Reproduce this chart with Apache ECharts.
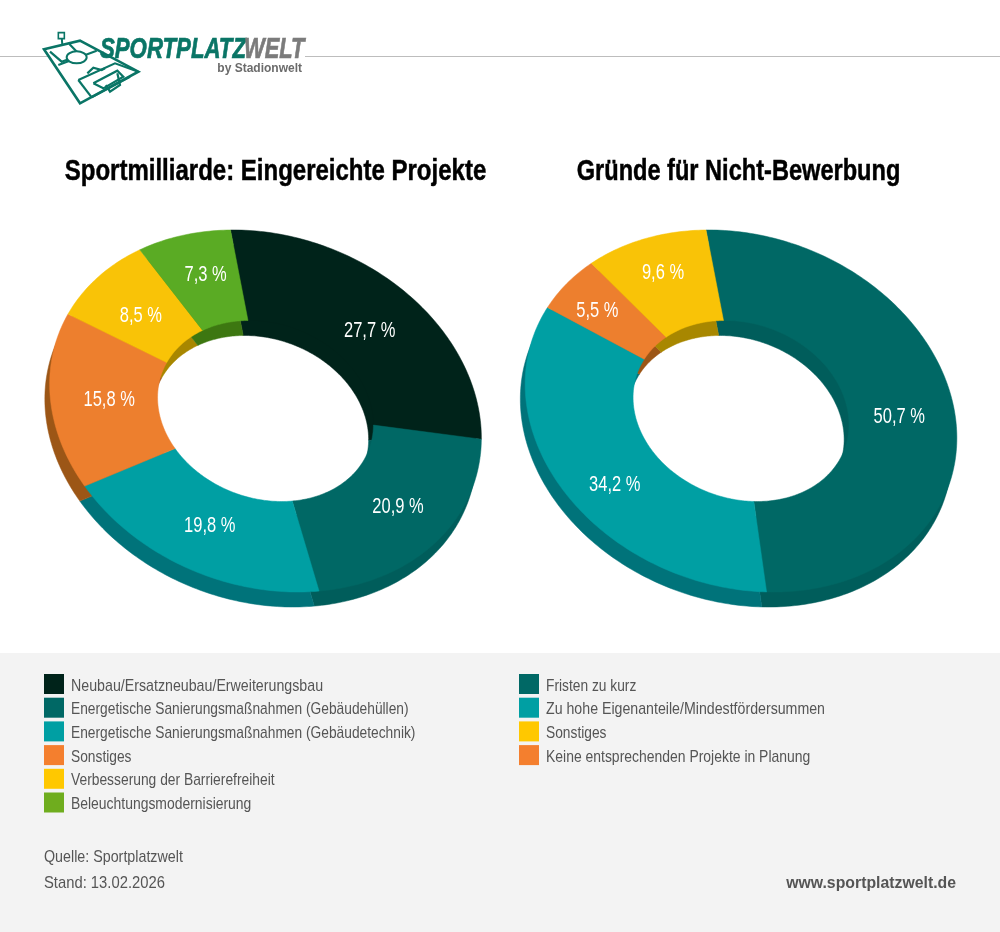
<!DOCTYPE html>
<html><head><meta charset="utf-8">
<style>html,body{margin:0;padding:0;background:#fff}#c{width:1000px;height:932px}</style>
<script src="https://cdn.jsdelivr.net/npm/echarts@6/dist/echarts.min.js"></script>
</head><body><div id="c"></div>
<script>
const projectCategories = ['Neubau/Ersatzneubau/Erweiterungsbau','Energetische Sanierungsmaßnahmen (Gebäudehüllen)','Energetische Sanierungsmaßnahmen (Gebäudetechnik)','Sonstiges','Verbesserung der Barrierefreiheit','Beleuchtungsmodernisierung'];
const projectShares = [27.7,20.9,19.8,15.8,8.5,7.3];
const reasonCategories = ['Fristen zu kurz','Zu hohe Eigenanteile/Mindestfördersummen','Sonstiges','Keine entsprechenden Projekte in Planung'];
const reasonShares = [50.7,34.2,9.6,5.5];
const reasonSliceOrder = [0,1,3,2];
const titles = ['Sportmilliarde: Eingereichte Projekte','Gründe für Nicht-Bewerbung'];

const SANS = '"Liberation Sans",sans-serif';
const C = {ink:'#00231a',deep:'#006865',teal:'#009fa3',orange:'#ed7f2e',yellow:'#f9c307',green:'#5aab24'};
const D = {ink:'#00231a',deep:'#005d5b',teal:'#00737a',orange:'#9c5616',yellow:'#a88700',green:'#3d7711'};
const L = {ink:'#00231a',deep:'#006865',teal:'#009fa3',orange:'#f47f2e',yellow:'#ffc800',green:'#6fad1e'};
const keysA=['ink','deep','teal','orange','yellow','green'], keysB=['deep','teal','yellow','orange'];

// tilted-disc projection
const U=[-35,-181], V=[213,-2.4], DEPTH=[-4.8,15], HOLE=0.5;
const pt=(cx,cy,pct,r,off)=>{const t=pct*3.6*Math.PI/180,c=Math.cos(t),s=Math.sin(t);
  return [cx+r*(U[0]*c+V[0]*s)+(off?DEPTH[0]:0), cy+r*(U[1]*c+V[1]*s)+(off?DEPTH[1]:0)];};
const ring=(api,cx,cy,a,b,off)=>{const n=Math.max(2,Math.ceil((b-a)*3.6)),o=[],i=[];
  for(let k=0;k<=n;k++){const p=a+(b-a)*k/n;o.push(api.coord(pt(cx,cy,p,1,off)));i.unshift(api.coord(pt(cx,cy,p,HOLE,off)));}
  return o.concat(i);};

const series=[];
function donut(names,vals,keys,cx,cy,shifts,idx){
  const spans=[];let acc=0;vals.forEach(v=>{spans.push([acc,acc+v]);acc+=v;});
  series.push({type:'custom',name:'depth'+idx,z:2,silent:true,coordinateSystem:'cartesian2d',
    data:spans.map(s=>[s[0],s[1]]),
    renderItem:(p,api)=>{const col=D[keys[p.dataIndex]];
      return {type:'polygon',shape:{points:ring(api,cx,cy,api.value(0),api.value(1),true)},style:{fill:col,stroke:col,lineWidth:.5}};}});
  names.forEach((name,i)=>{
    series.push({type:'custom',name:name,z:3,silent:true,coordinateSystem:'cartesian2d',itemStyle:{color:C[keys[i]]},
      data:[[spans[i][0],spans[i][1],vals[i]]],
      renderItem:(p,api)=>{const a=api.value(0),b=api.value(1),v=api.value(2),col=C[keys[i]],m=(a+b)/2;
        const q=pt(cx,cy,m,.75,false),c=api.coord([q[0]+shifts[i][0],q[1]+shifts[i][1]]);
        return {type:'group',children:[
          {type:'polygon',shape:{points:ring(api,cx,cy,a,b,false)},style:{fill:col,stroke:col,lineWidth:.5}},
          {type:'text',z2:10,x:c[0],y:c[1],scaleX:.75,style:{text:v.toFixed(1).replace('.',',')+' %',x:0,y:0,align:'center',verticalAlign:'middle',
            fontFamily:SANS,fontSize:22,fill:'#fff'}}]};}});
  });
}
donut(projectCategories,projectShares,keysA,265.5,411,[[-1,8.5],[5,-3],[3,-3],[5,-2],[1,5],[2,-4]],0);
donut(reasonSliceOrder.map(i=>reasonCategories[i]),reasonSliceOrder.map(i=>reasonShares[i]),reasonSliceOrder.map(i=>keysB[i]),741,411,
  [[-2,4.5],[6,12.5],[-13,-4.5],[-5.5,-8.5]],1);

const z=(x,y)=>[30+x/3,20+y/3];
const TEAL='#0a7566';
const pitchLines=[
 [[85,135],[200,92]],
 [[60,95],[95,125],[150,105],[118,72]],
 [[145,180],[255,130],[325,155]],
 [[145,180],[185,232]],[[185,232],[300,170]],
 [[190,190],[262,152],[280,170],[220,205],[190,190]],
 [[228,195],[240,215],[270,195],[262,160]],
 [[172,160],[190,143],[215,150],[225,145]]
];
const logo=[
 {type:'polygon',z:5,shape:{points:[[42,88],[150,62],[325,155],[150,250]].map(p=>z(p[0],p[1]))},style:{fill:'#fff',stroke:TEAL,lineWidth:2.6}},
 ...pitchLines.map(l=>({type:'polyline',z:6,shape:{points:l.map(p=>z(p[0],p[1]))},style:{fill:'none',stroke:TEAL,lineWidth:2.2}})),
 {type:'ellipse',z:6,shape:{cx:z(140,112)[0],cy:z(140,112)[1],rx:10,ry:6},style:{fill:'#fff',stroke:TEAL,lineWidth:2}},
 {type:'polyline',z:6,shape:{points:[z(97,75),z(95,50)]},style:{fill:'none',stroke:TEAL,lineWidth:2}},
 {type:'rect',z:6,shape:{x:z(85,38)[0],y:z(85,38)[1],width:6,height:6},style:{fill:'#fff',stroke:TEAL,lineWidth:1.6}},
 {type:'text',z:6,x:100,y:35,scaleX:.74,style:{text:'SPORTPLATZ',x:0,y:0,fontFamily:SANS,fontSize:30,fontWeight:'bold',fontStyle:'italic',fill:TEAL,stroke:TEAL,lineWidth:.7}},
 {type:'text',z:6,x:244,y:35,scaleX:.73,style:{text:'WELT',x:0,y:0,fontFamily:SANS,fontSize:30,fontWeight:'bold',fontStyle:'italic',fill:'#7b7b7b',stroke:'#7b7b7b',lineWidth:.7}},
 {type:'text',z:6,style:{text:'by Stadionwelt',x:302,y:62.5,align:'right',fontFamily:SANS,fontSize:12,fontWeight:'bold',fill:'#6b6b6b'}}
];
const rule=[
 {type:'rect',z:0,shape:{x:0,y:653,width:1000,height:279},style:{fill:'#f3f3f3'}},
 {type:'rect',z:0,shape:{x:0,y:56,width:1000,height:1},style:{fill:'#bdbdbd'}},
 {type:'rect',z:1,shape:{x:100,y:36,width:205,height:24},style:{fill:'#fff'}}
];
const txt=(text,x,y,sx,opt)=>({type:'text',z:6,x:x,y:y,scaleX:sx,style:Object.assign({text:text,x:0,y:0,verticalAlign:'middle',fontFamily:SANS,fontSize:17,fill:'#555'},opt||{})});
const foot=[
 txt('Quelle: Sportplatzwelt',44,857,.84),
 txt('Stand: 13.02.2026',44,883,.87),
 txt('www.sportplatzwelt.de',956,883,.93,{align:'right',fontWeight:'bold'})
];
const heads=[
 txt(titles[0],275.5,172,.80,{align:'center',fontSize:30,fontWeight:'bold',fill:'#000',stroke:'#000',lineWidth:.5}),
 txt(titles[1],738.5,172,.786,{align:'center',fontSize:30,fontWeight:'bold',fill:'#000',stroke:'#000',lineWidth:.5})
];
const legendRows=(cats,keys,x,sx)=>cats.flatMap((n,i)=>[
 {type:'rect',z:6,shape:{x:x,y:674+23.7*i,width:20,height:20},style:{fill:L[keys[i]]}},
 txt(n,x+27,686+23.7*i,sx[i])
]);

const chart=echarts.init(document.getElementById('c'));
chart.setOption({
  animation:false,backgroundColor:'#fff',
  grid:{left:0,top:0,width:1000,height:932,containLabel:false},
  xAxis:{type:'value',min:0,max:1000,show:false},
  yAxis:{type:'value',min:0,max:932,inverse:true,show:false},
  graphic:[...rule,...logo,...foot,...heads,
    ...legendRows(projectCategories,keysA,44,[.836,.81,.81,.81,.813,.819]),
    ...legendRows(reasonCategories,keysB,519,[.81,.834,.81,.82])],
  series:series
});
</script></body></html>
